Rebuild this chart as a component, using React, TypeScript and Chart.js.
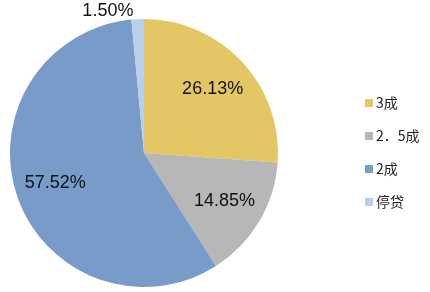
import React, { useEffect, useRef } from "react";
import { Chart, registerables } from "chart.js";

Chart.register(...registerables);

const categories = ["3成", "2．5成", "2成", "停贷"];
const shares = [26.13, 14.85, 57.52, 1.5];
const valueLabels = ["26.13%", "14.85%", "57.52%", "1.50%"];
const colors = ["#E4C665", "#B7B7B7", "#789BC9", "#B9D0EA"];

const labelPlugin = {
  id: "sliceLabels",
  afterDatasetsDraw(chart: any) {
    const ctx = chart.ctx;
    const meta = chart.getDatasetMeta(0);
    ctx.save();
    ctx.font = '18px "Liberation Sans", Arial, sans-serif';
    ctx.fillStyle = "#111";
    ctx.textBaseline = "middle";
    meta.data.forEach((arc: any, i: number) => {
      const { x, y, startAngle, endAngle, outerRadius } = arc.getProps(
        ["x", "y", "startAngle", "endAngle", "outerRadius"],
        true
      );
      const mid = (startAngle + endAngle) / 2;
      const share = shares[i];
      if (share < 5) {
        const r = outerRadius + 6;
        ctx.textAlign = "right";
        ctx.fillText(valueLabels[i], x + Math.cos(mid) * r - 4, y + Math.sin(mid) * r - 2);
      } else {
        const r = outerRadius * 0.7;
        ctx.textAlign = "center";
        ctx.fillText(valueLabels[i], x + Math.cos(mid) * r, y + Math.sin(mid) * r);
      }
    });
    ctx.restore();
  },
};

const legendPlugin = {
  id: "sideLegend",
  afterDraw(chart: any) {
    const ctx = chart.ctx;
    const labels = chart.data.labels as string[];
    const bg = chart.data.datasets[0].backgroundColor as string[];
    const left = chart.chartArea.right + 87;
    const top = 103;
    const step = 33;
    ctx.save();
    ctx.font = '14px "Noto Sans CJK SC", sans-serif';
    ctx.textBaseline = "middle";
    ctx.textAlign = "left";
    labels.forEach((lab, i) => {
      const cy = top + i * step;
      ctx.fillStyle = bg[i];
      ctx.fillRect(left, cy - 4, 8, 8);
      ctx.fillStyle = "#222";
      ctx.fillText(lab, left + 11, cy);
    });
    ctx.restore();
  },
};

export default function App() {
  const ref = useRef<HTMLCanvasElement>(null);
  useEffect(() => {
    document.body.style.margin = "0";
    const chart = new Chart(ref.current!, {
      type: "pie",
      data: {
        labels: categories,
        datasets: [
          {
            data: shares,
            backgroundColor: colors,
            borderWidth: 0,
          },
        ],
      },
      options: {
        responsive: false,
        animation: false,
        layout: { padding: { left: 10, right: 152, top: 19, bottom: 5 } },
        plugins: {
          legend: { display: false },
          tooltip: { enabled: false },
        },
      },
      plugins: [labelPlugin, legendPlugin],
    });
    return () => chart.destroy();
  }, []);
  return (
    <div style={{ width: 430, height: 292, background: "#fff" }}>
      <canvas ref={ref} width={430} height={292} />
    </div>
  );
}
